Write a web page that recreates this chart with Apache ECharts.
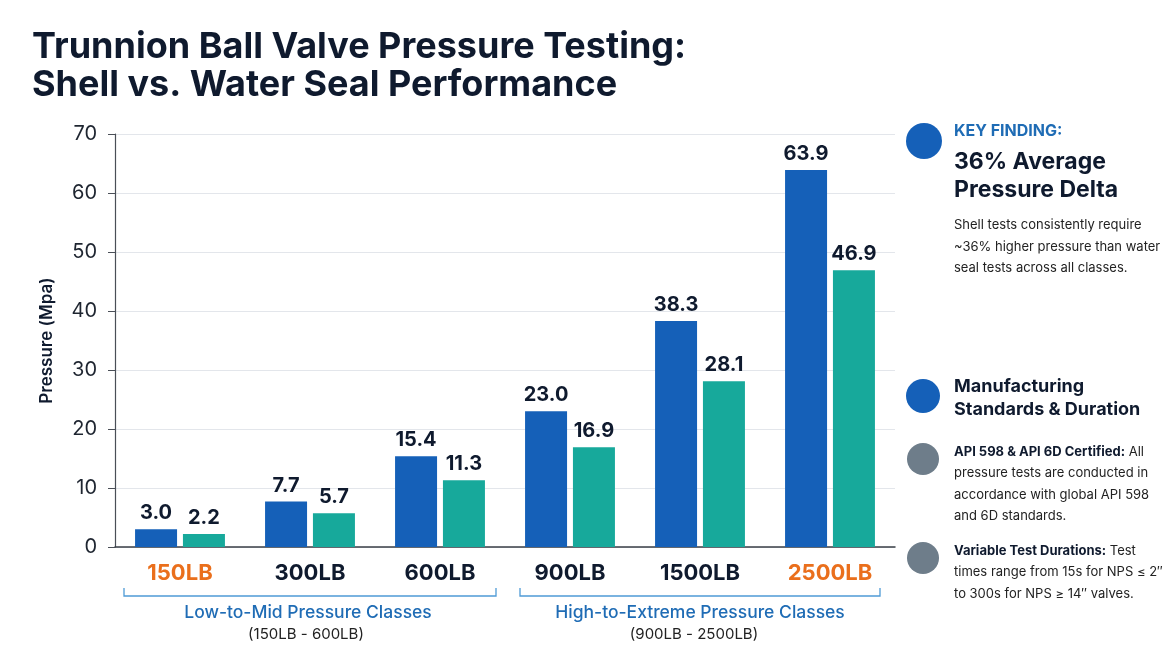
<!DOCTYPE html>
<html>
<head>
<meta charset="utf-8">
<script src="https://cdn.jsdelivr.net/npm/echarts@6/dist/echarts.min.js"></script>
<style>html,body{margin:0;padding:0;background:#fff;}#c{width:1170px;height:659px;}</style>
</head>
<body>
<div id="c"></div>
<script>
const categories = ['150LB', '300LB', '600LB', '900LB', '1500LB', '2500LB'];
const shellTest = [3.0, 7.7, 15.4, 23.0, 38.3, 63.9];
const waterSealTest = [2.2, 5.7, 11.3, 16.9, 28.1, 46.9];
const highlightCategories = ['150LB', '2500LB'];
const yTicks = { min: 0, max: 70, interval: 10 };

const FONT = 'Inter, "Noto Sans", sans-serif';
const NAVY = '#0f1a2e';
const BLUE = '#1560b8';
const TEAL = '#17a99b';
const ORANGE = '#ea6f1c';
const LINKBLUE = '#1f6cb5';

const chart = echarts.init(document.getElementById('c'));

const labelCommon = {
  show: true, position: 'top', distance: 6,
  fontFamily: FONT, fontWeight: 'bold', fontSize: 20, color: NAVY,
  formatter: p => Number(p.value).toFixed(1)
};

function txt(x, y, text, size, weight, color, align) {
  return { type: 'text', x: x, y: y, style: {
    text: text, fontFamily: FONT, fontSize: size, fontWeight: weight || 'normal',
    fill: color || NAVY, align: align || 'left', verticalAlign: 'middle' } };
}
function bracket(x1, x2, y) {
  return { type: 'polyline', shape: { points: [[x1, y - 8], [x1, y], [x2, y], [x2, y - 8]] },
    style: { stroke: '#4f9bd6', lineWidth: 1.3, fill: null } };
}

const bodyRich = { b: { fontFamily: FONT, fontWeight: 'bold', fontSize: 13, fill: NAVY, lineHeight: 21.5 } };

chart.setOption({
  backgroundColor: '#ffffff',
  animation: false,
  grid: { left: 115, right: 275, top: 134, bottom: 112, containLabel: false },
  xAxis: {
    type: 'category', data: categories,
    axisLine: { lineStyle: { color: '#3a3f47', width: 1.5 } },
    axisTick: { show: false },
    axisLabel: {
      margin: 15, fontFamily: FONT, fontWeight: 'bold', fontSize: 22,
      color: (v) => highlightCategories.includes(v) ? ORANGE : NAVY
    }
  },
  yAxis: {
    type: 'value', min: yTicks.min, max: yTicks.max, interval: yTicks.interval,
    name: 'Pressure (Mpa)', nameLocation: 'middle', nameGap: 60,
    nameTextStyle: { fontFamily: FONT, fontWeight: 600, fontSize: 17, color: NAVY },
    axisLine: { show: true, lineStyle: { color: '#4a4f57', width: 1.2 } },
    axisTick: { show: true, length: 7, lineStyle: { color: '#4a4f57' } },
    axisLabel: { margin: 18, fontFamily: FONT, fontSize: 20, color: '#1e2530' },
    splitLine: { lineStyle: { color: '#e3e6eb', width: 1 } }
  },
  series: [
    { name: 'Shell Test', type: 'bar', data: shellTest, barWidth: 42, barGap: '14%',
      itemStyle: { color: BLUE }, label: labelCommon },
    { name: 'Water Seal Test', type: 'bar', data: waterSealTest, barWidth: 42, barGap: '14%',
      itemStyle: { color: TEAL }, label: labelCommon }
  ],
  graphic: [
    txt(32, 47, 'Trunnion Ball Valve Pressure Testing:', 36, 'bold', NAVY),
    txt(32, 85, 'Shell vs. Water Seal Performance', 36, 'bold', NAVY),
    bracket(124, 496, 596),
    bracket(520, 880, 596),
    txt(308, 613, 'Low-to-Mid Pressure Classes', 17.5, 500, LINKBLUE, 'center'),
    txt(306, 634, '(150LB - 600LB)', 15, 'normal', '#222', 'center'),
    txt(700, 613, 'High-to-Extreme Pressure Classes', 17.5, 500, LINKBLUE, 'center'),
    txt(694, 634, '(900LB - 2500LB)', 15, 'normal', '#222', 'center'),
    { type: 'circle', shape: { cx: 924, cy: 141, r: 18 }, style: { fill: BLUE } },
    txt(954, 131, 'KEY FINDING:', 16, 'bold', LINKBLUE),
    txt(954, 162, '36% Average', 23, 'bold', NAVY),
    txt(954, 190, 'Pressure Delta', 23, 'bold', NAVY),
    txt(954, 225, 'Shell tests consistently require', 13, 'normal', '#222'),
    txt(954, 247, '~36% higher pressure than water', 13, 'normal', '#222'),
    txt(954, 268, 'seal tests across all classes.', 13, 'normal', '#222'),
    { type: 'circle', shape: { cx: 923, cy: 396, r: 17 }, style: { fill: BLUE } },
    txt(954, 387, 'Manufacturing', 18, 'bold', NAVY),
    txt(954, 410, 'Standards & Duration', 18, 'bold', NAVY),
    { type: 'circle', shape: { cx: 923, cy: 459, r: 16 }, style: { fill: '#6e7d8a' } },
    { type: 'text', x: 954, y: 441, style: {
      text: '{b|API 598 & API 6D Certified:} All\npressure tests are conducted in\naccordance with global API 598\nand 6D standards.',
      rich: bodyRich, fontFamily: FONT, fontSize: 13, fill: '#222', lineHeight: 21.5, verticalAlign: 'top' } },
    { type: 'circle', shape: { cx: 923, cy: 558, r: 16 }, style: { fill: '#6e7d8a' } },
    { type: 'text', x: 954, y: 540, style: {
      text: '{b|Variable Test Durations:} Test\ntimes range from 15s for NPS ≤ 2″\nto 300s for NPS ≥ 14″ valves.',
      rich: bodyRich, fontFamily: FONT, fontSize: 13, fill: '#222', lineHeight: 21.5, verticalAlign: 'top' } }
  ]
});
</script>
</body>
</html>
